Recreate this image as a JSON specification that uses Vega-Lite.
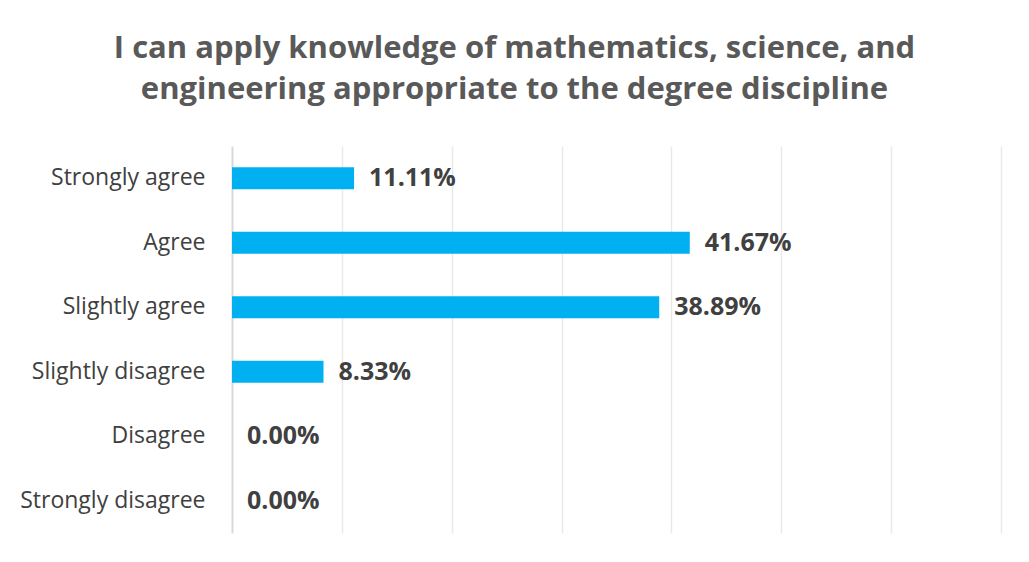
{
  "$schema": "https://vega.github.io/schema/vega-lite/v6.json",
  "autosize": "none",
  "width": 769,
  "height": 387,
  "padding": {"left": 232, "top": 146, "right": 28, "bottom": 29},
  "background": "white",
  "title": {
    "text": ["I can apply knowledge of mathematics, science, and", "engineering appropriate to the degree discipline"],
    "font": "Open Sans",
    "fontSize": 31,
    "fontWeight": "bold",
    "color": "#595959",
    "anchor": "middle",
    "frame": "group",
    "dx": -102,
    "offset": 40,
    "lineHeight": 41
  },
  "data": {
    "values": [
      {"response": "Strongly agree", "pct": 0.1111},
      {"response": "Agree", "pct": 0.4167},
      {"response": "Slightly agree", "pct": 0.3889},
      {"response": "Slightly disagree", "pct": 0.0833},
      {"response": "Disagree", "pct": 0.0},
      {"response": "Strongly disagree", "pct": 0.0}
    ]
  },
  "encoding": {
    "y": {
      "field": "response",
      "type": "nominal",
      "sort": null,
      "scale": {"paddingInner": 0.66, "paddingOuter": 0.33},
      "axis": {
        "title": null,
        "ticks": false,
        "domain": true,
        "domainColor": "#d9d9d9",
        "domainWidth": 2,
        "labelPadding": 27,
        "labelLimit": 300,
        "labelFont": "Open Sans",
        "labelFontSize": 23,
        "labelColor": "#404040"
      }
    },
    "x": {
      "field": "pct",
      "type": "quantitative",
      "scale": {"domain": [0, 0.7], "nice": false},
      "axis": {
        "title": null,
        "labels": false,
        "ticks": false,
        "domain": false,
        "grid": true,
        "gridColor": "#e9e9e9",
        "gridWidth": 1.5,
        "values": [0.1, 0.2, 0.3, 0.4, 0.5, 0.6, 0.7]
      }
    }
  },
  "layer": [
    {"mark": {"type": "bar", "color": "#00B0F0"}},
    {
      "mark": {"type": "text", "align": "left", "baseline": "middle", "dx": 15, "font": "Open Sans", "fontSize": 25, "fontWeight": "bold", "color": "#404040"},
      "encoding": {"text": {"field": "pct", "type": "quantitative", "format": ".2%"}}
    }
  ],
  "config": {"view": {"stroke": null}}
}
